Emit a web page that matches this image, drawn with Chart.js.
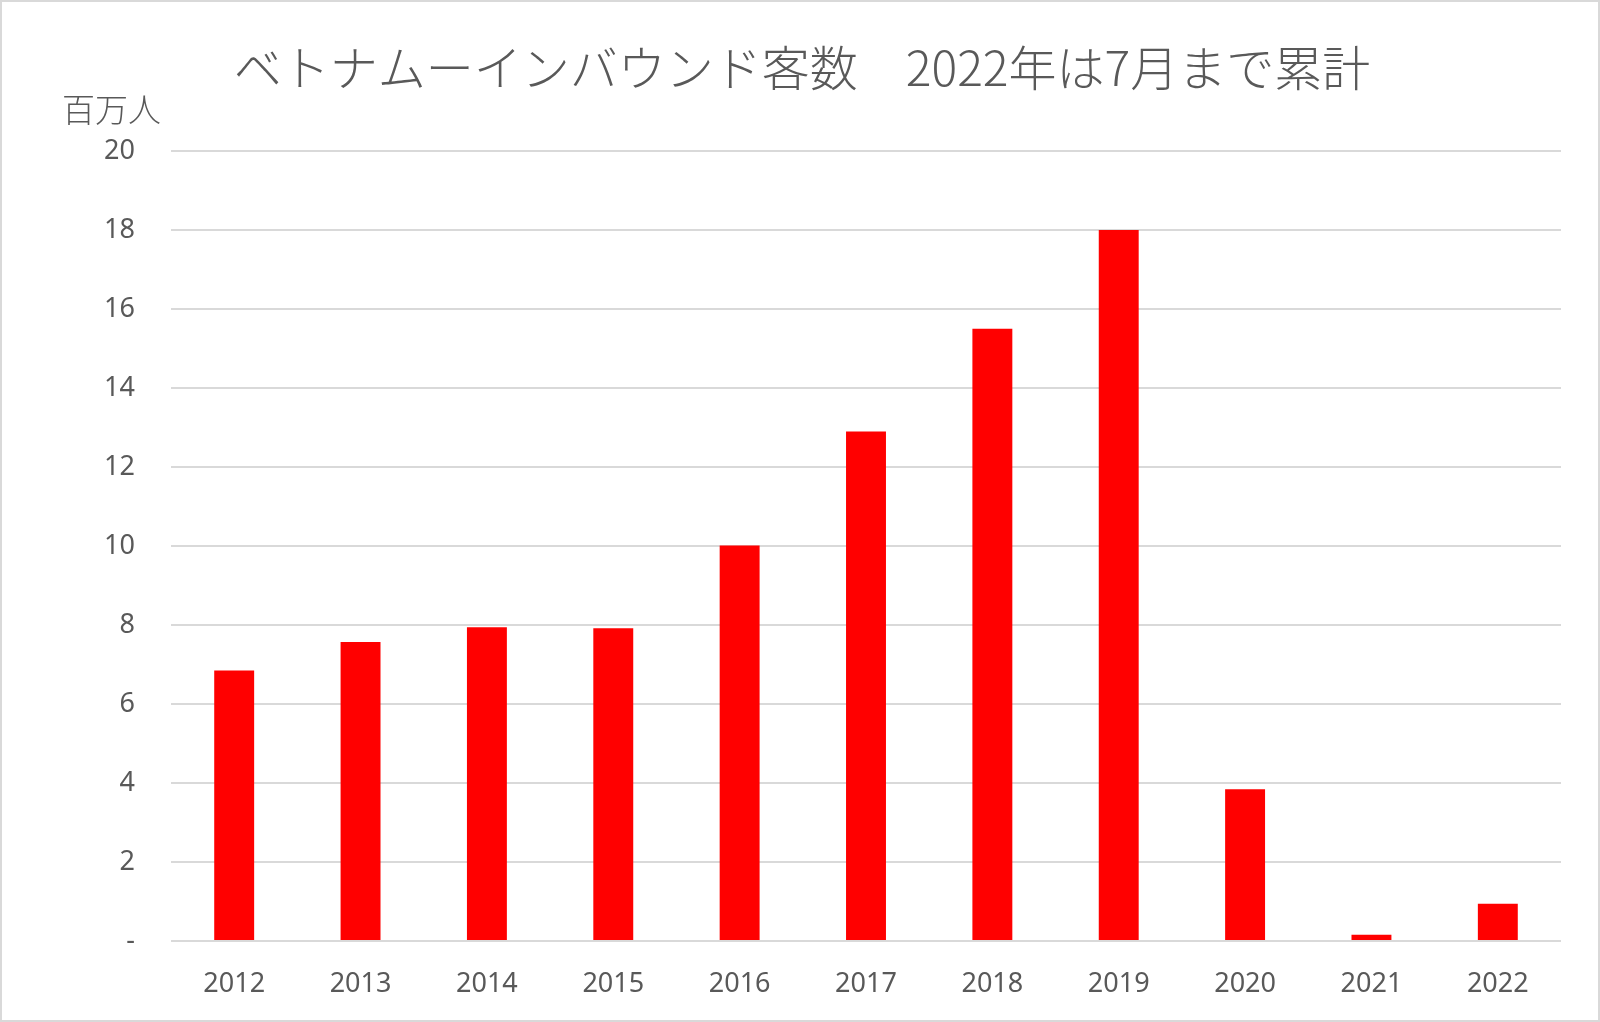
<!DOCTYPE html>
<html>
<head>
<meta charset="utf-8">
<script src="https://cdn.jsdelivr.net/npm/chart.js@4.4.1/dist/chart.umd.min.js"></script>
<style>
  html, body { margin:0; padding:0; background:#fff; }
  #wrap { width:1600px; height:1022px; box-sizing:border-box; border:2px solid #d9d9d9; background:#fff; }
  canvas { display:block; }
</style>
</head>
<body>
<div id="wrap"><canvas id="grafico" width="1596" height="1018"></canvas></div>
<script>
// Dados
const anos = ['2012','2013','2014','2015','2016','2017','2018','2019','2020','2021','2022'];
const visitantes = [6.85, 7.57, 7.94, 7.92, 10.01, 12.9, 15.5, 18.0, 3.84, 0.16, 0.94];
const titulo = 'ベトナムーインバウンド客数　2022年は7月まで累計';
const unidade = '百万人';

const corTexto = '#595959';
const fonteNum = '"Noto Sans", "Open Sans", sans-serif';
const fonteJp = '"Noto Sans CJK JP", "Noto Sans", sans-serif';

// Titulo e unidade desenhados a mao
const textosExtras = {
  id:'textosExtras',
  afterDraw(chart){
    const c = chart.ctx;
    c.save();
    c.fillStyle = corTexto;
    c.textBaseline = 'middle';
    c.textAlign = 'center';
    c.font = '300 48px ' + fonteJp;
    c.fillText(titulo, chart.width/2 + 2, 66);
    c.textAlign = 'left';
    c.font = '300 33px ' + fonteJp;
    c.fillText(unidade, 60, 107);
    c.restore();
  }
};

new Chart(document.getElementById('grafico'), {
  type:'bar',
  data:{ labels:anos, datasets:[{ data:visitantes, backgroundColor:'#ff0000', borderWidth:0,
    categoryPercentage:1, barPercentage:0.316 }] },
  options:{
    responsive:false, animation:false,
    layout:{ padding:{ top:149, right:37, bottom:0, left:0 } },
    plugins:{ legend:{ display:false }, tooltip:{ enabled:false } },
    scales:{
      x:{
        grid:{ display:false }, border:{ display:false },
        ticks:{ color:corTexto, font:{ family:fonteNum, size:27 }, padding:19, maxRotation:0 },
        afterFit(s){ s.height = 79; }
      },
      y:{
        min:0, max:20,
        grid:{ color:'#d9d9d9', lineWidth:2, drawTicks:false },
        border:{ display:false },
        ticks:{ stepSize:2, color:corTexto, font:{ family:fonteNum, size:27 }, padding:36,
          callback:v => v === 0 ? '-' : v },
        afterFit(s){ s.width = 169; }
      }
    }
  },
  plugins:[textosExtras]
});
</script>
</body>
</html>
